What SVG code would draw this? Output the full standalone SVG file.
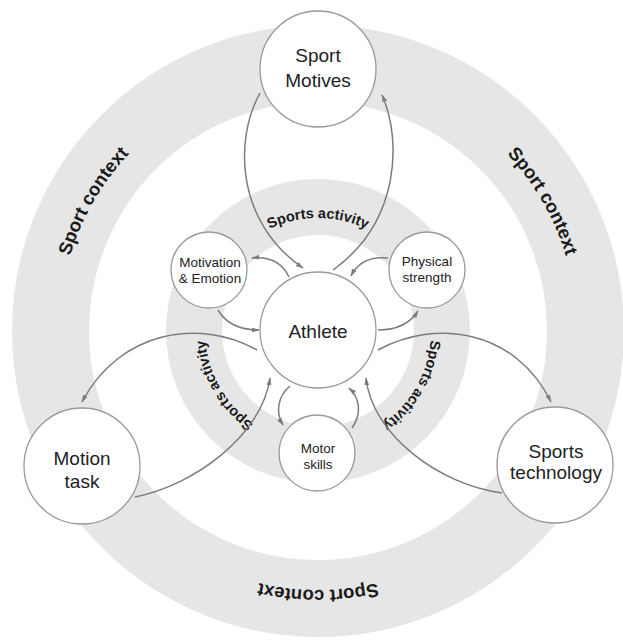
<svg xmlns="http://www.w3.org/2000/svg" width="623" height="642" viewBox="0 0 623 642">
  <defs>
    <style>
      .ring { fill: none; stroke: #e6e6e6; }
      .node { fill: #ffffff; stroke: #9a9a9a; stroke-width: 1.3; }
      .lbl { font-family: "Liberation Sans", Arial, sans-serif; fill: #222222; text-anchor: middle; }
      .big { font-size: 19px; }
      .small { font-size: 13.5px; }
      .arc { font-family: "Liberation Sans", Arial, sans-serif; font-weight: bold; fill: #1a1a1a; text-anchor: middle; }
      .edge { fill: none; stroke: #7c7c7c; stroke-width: 1.5; marker-end: url(#arr); }
    </style>
    <marker id="arr" viewBox="0 0 10 10" refX="9" refY="5" markerWidth="8" markerHeight="8" markerUnits="userSpaceOnUse" orient="auto">
      <path d="M0,2 L10,5 L0,8 z" fill="#7c7c7c"/>
    </marker>
    <!-- clockwise circles used as baselines for the curved labels -->
    <path id="activityPath" d="M318,444 A113,113 0 1 1 318,218 A113,113 0 1 1 318,444"/>
    <path id="contextPath" d="M318,72 A259,259 0 1 1 318,590 A259,259 0 1 1 318,72"/>
  </defs>

  <rect width="623" height="642" fill="#ffffff"/>

  <!-- concentric context bands -->
  <g id="bands">
    <circle class="ring" cx="318" cy="331" r="267.5" stroke-width="77"/>
    <circle class="ring" cx="318" cy="331" r="124" stroke-width="56"/>
  </g>

  <!-- curved band labels -->
  <g id="band-labels">
    <text class="arc" font-size="18.5"><textPath href="#contextPath" startOffset="50%">Sport context</textPath></text>
    <text class="arc" font-size="18.5" transform="rotate(120 318 331)"><textPath href="#contextPath" startOffset="50%">Sport context</textPath></text>
    <text class="arc" font-size="18.5" transform="rotate(-120 318 331)"><textPath href="#contextPath" startOffset="50%">Sport context</textPath></text>
    <text class="arc" font-size="14.5"><textPath href="#activityPath" startOffset="50%">Sports activity</textPath></text>
    <text class="arc" font-size="14.5" transform="rotate(120 318 331)"><textPath href="#activityPath" startOffset="50%">Sports activity</textPath></text>
    <text class="arc" font-size="14.5" transform="rotate(-120 318 331)"><textPath href="#activityPath" startOffset="50%">Sports activity</textPath></text>
  </g>

  <!-- connectors -->
  <g id="connectors">
    <!-- Sport Motives loop -->
    <path class="edge" d="M260,93 C234,140 236,222 303,268"/>
    <path class="edge" d="M333,270 C400,222 402,140 382,95"/>
    <!-- Motion task loop -->
    <path class="edge" d="M257,350 C200,318 120,330 82,402"/>
    <path class="edge" d="M135,497 C195,485 262,435 270,378"/>
    <!-- Sports technology loop -->
    <path class="edge" d="M378,350 C436,318 516,330 551,402"/>
    <path class="edge" d="M502,493 C440,485 372,435 366,378"/>
    <!-- Motivation & Emotion -->
    <path class="edge" d="M289,277 C282,262 270,256 252,258"/>
    <path class="edge" d="M218,310 C225,322 238,330 259,330"/>
    <!-- Physical strength -->
    <path class="edge" d="M388,258 C370,256 358,262 351,276"/>
    <path class="edge" d="M378,330 C398,330 411,322 418,311"/>
    <!-- Motor skills -->
    <path class="edge" d="M290,386 C278,396 275,412 283,425"/>
    <path class="edge" d="M352,428 C362,414 360,398 349,388"/>
  </g>

  <!-- nodes -->
  <g id="athlete">
    <circle class="node" cx="318" cy="330" r="58"/>
    <text class="lbl big" x="318" y="338">Athlete</text>
  </g>
  <g id="sport-motives">
    <circle class="node" cx="318" cy="69" r="58"/>
    <text class="lbl big" x="318" y="62">Sport</text>
    <text class="lbl big" x="318" y="87">Motives</text>
  </g>
  <g id="motion-task">
    <circle class="node" cx="82" cy="466" r="58"/>
    <text class="lbl big" x="82" y="465">Motion</text>
    <text class="lbl big" x="82" y="488">task</text>
  </g>
  <g id="sports-technology">
    <circle class="node" cx="555" cy="465" r="58"/>
    <text class="lbl big" x="556" y="458">Sports</text>
    <text class="lbl big" x="556" y="479">technology</text>
  </g>
  <g id="motivation-emotion">
    <circle class="node" cx="209" cy="270" r="38"/>
    <text class="lbl small" x="210" y="267">Motivation</text>
    <text class="lbl small" x="210" y="283">&amp; Emotion</text>
  </g>
  <g id="physical-strength">
    <circle class="node" cx="427" cy="270" r="38"/>
    <text class="lbl small" x="427" y="266">Physical</text>
    <text class="lbl small" x="427" y="282">strength</text>
  </g>
  <g id="motor-skills">
    <circle class="node" cx="317" cy="453" r="38"/>
    <text class="lbl small" x="318" y="453">Motor</text>
    <text class="lbl small" x="318" y="469">skills</text>
  </g>
</svg>
